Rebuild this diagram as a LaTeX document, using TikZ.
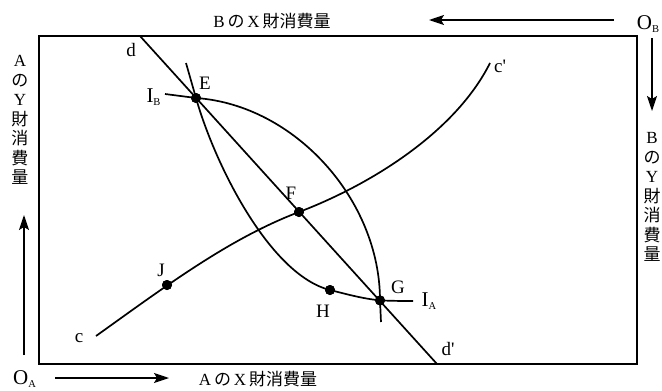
\documentclass[tikz,border=0pt]{standalone}
\usepackage{fontspec}
\setmainfont{Liberation Serif}
\newfontfamily\rawserif{Liberation Serif}[Ligatures=TeXOff]
\newfontfamily\jp{Noto Sans CJK JP}
\usetikzlibrary{arrows.meta}
\begin{document}
\begin{tikzpicture}[x=1pt,y=-1pt,
  curve/.style={line width=1.7pt},
  frame/.style={line width=1.3pt},
  arr/.style={line width=1.3pt,-{Stealth[length=15pt,width=10pt,inset=3pt]}},
  dot/.style={circle,fill=black,inner sep=0pt,minimum size=10pt},
  lab/.style={inner sep=0pt,font=\fontsize{19}{19}\selectfont},
  olab/.style={inner sep=0pt,font=\fontsize{21}{21}\selectfont},
  axl/.style={inner sep=0pt,font=\fontsize{17}{17}\selectfont},
  vlab/.style={inner sep=0pt,align=center,font=\fontsize{17}{19.5}\selectfont}]
\useasboundingbox (0,0) rectangle (662,391);

% frame
\draw[frame] (39,36) rectangle (637,364);

% coordinates
\coordinate (dtop) at (140,36);
\coordinate (dbot) at (437,364);
\coordinate (ibs) at (165,94);
\coordinate (ibe) at (381,322);
\coordinate (ias) at (186,63);
\coordinate (iae) at (413,301);
\coordinate (c0) at (96,336);
\coordinate (c1) at (490,63);

\node[dot] (E) at (196,98) {};
\node[dot] (F) at (299,212) {};
\node[dot] (G) at (380,300.4) {};
\node[dot] (H) at (330,290) {};
\node[dot] (J) at (167,285) {};

% curves
\draw[curve] (dtop) -- (dbot);
\draw[curve] (ibs) -- (E.center) .. controls (295,105) and (380,200) .. (G.center) -- (ibe);
\draw[curve] (ias) -- (E.center) .. controls (215,165) and (270,275) .. (H.center)
   .. controls (348,294.5) and (362,298.5) .. (G.center)
   .. controls (395,301) and (405,301) .. (iae);
\draw[curve] (c0) .. controls (166,286) and (229,238.6) .. (F.center)
   .. controls (369,185.4) and (455,133) .. (c1);

% redraw dots on top
\foreach \p in {E,F,G,H,J} \fill (\p) circle (5pt);

% point labels
\node[lab] (ld) at (131,50) {d};
\node[lab] (ldp) at (448,349) {d{\rawserif '}};
\node[lab] (lE) at (205,83) {E};
\node[lab] (lF) at (291,193) {F};
\node[lab] (lG) at (398,287) {G};
\node[lab] (lH) at (323,311) {H};
\node[lab] (lJ) at (161,270) {J};
\node[lab] (lc) at (79,338) {c};
\node[lab] (lcp) at (500,66) {c{\rawserif '}};
\node[olab] (lIB) at (153.5,97) {I\raisebox{-3pt}{\fontsize{10.5}{10.5}\selectfont B}};
\node[olab] (lIA) at (429,301) {I\raisebox{-3pt}{\fontsize{10.5}{10.5}\selectfont A}};

% origins
\node[olab] (OB) at (648,24) {O\raisebox{-3pt}{\fontsize{10.5}{10.5}\selectfont B}};
\node[olab] (OA) at (24.5,379) {O\raisebox{-3pt}{\fontsize{10.5}{10.5}\selectfont A}};

% axis arrows
\coordinate (tA) at (614,20);
\coordinate (tB) at (429,20);
\coordinate (rA) at (652,38);
\coordinate (rB) at (652,111);
\coordinate (lA) at (24,355);
\coordinate (lB) at (24,215);
\coordinate (bA) at (55,378);
\coordinate (bB) at (169,378);
\draw[arr] (tA) -- (tB);
\draw[arr] (rA) -- (rB);
\draw[arr] (lA) -- (lB);
\draw[arr] (bA) -- (bB);

% axis labels
\node[axl] (topl) at (272,21) {B\,{\jp の}\,X\,{\jp 財消費量}};
\node[axl] (botl) at (258,379) {A\,{\jp の}\,X\,{\jp 財消費量}};
\node[vlab] (leftl) at (20,120) {A\\{\jp の}\\Y\\{\jp 財}\\{\jp 消}\\{\jp 費}\\{\jp 量}};
\node[vlab] (rightl) at (652,197) {B\\{\jp の}\\Y\\{\jp 財}\\{\jp 消}\\{\jp 費}\\{\jp 量}};
\end{tikzpicture}
\end{document}
